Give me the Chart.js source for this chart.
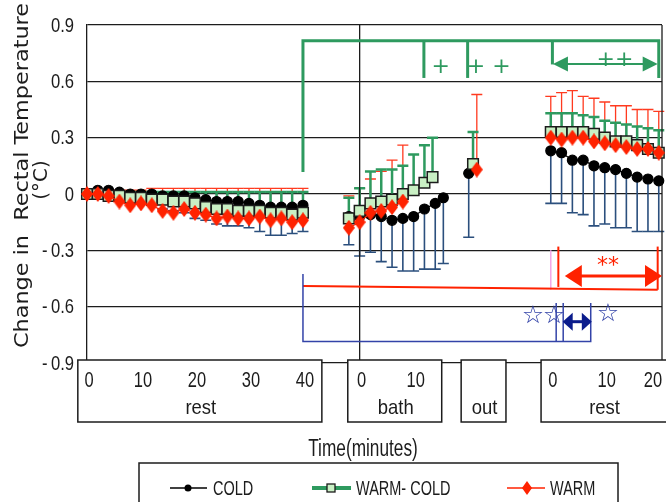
<!DOCTYPE html>
<html>
<head>
<meta charset="utf-8">
<script src="https://cdn.jsdelivr.net/npm/chart.js@4.4.1/dist/chart.umd.min.js"></script>
<style>
  html, body { margin: 0; padding: 0; background: #fff; }
  #wrap { width: 666px; height: 502px; }
</style>
</head>
<body>
<div id="wrap"><canvas id="chart" width="666" height="502"></canvas></div>
<script>
const SANS = "'Liberation Sans', Arial, sans-serif";
const WIDE = "'DejaVu Sans', sans-serif";
const INK = '#1c1c1c';
const RED = '#ff2200';
const GREEN = '#2e9a5f';
const BAR_BLUE = '#2b4f7d';
const BLUE = '#3343a8';
const NAVY = '#0b1c8c';

// where each phase starts on the shared time axis (minutes)
const REST1_AT = 0;
const BATH_AT = 50.5;
const OUT_AT = 70.7;
const REST2_AT = 85.9;
const X_MAX = 106.5;

// sampling times inside each phase
const rest1Min = [0, 2, 4, 6, 8, 10, 12, 14, 16, 18, 20, 22, 24, 26, 28, 30, 32, 34, 36, 38, 40];
const rest2Min = [0, 2, 4, 6, 8, 10, 12, 14, 16, 18, 20];
const coldBathMin = [-2, 0, 2, 4, 6, 8, 10, 12, 14, 15.5];
const wcBathMin = [-2, 0, 2, 4, 6, 8, 10, 12, 13.5];
const warmBathMin = [-2, 0, 2, 4, 6, 8];
const coldOutMin = [0];
const wcOutMin = [0.8];
const warmOutMin = [1.5];

// COLD: mean and SD (bars drawn downward)
const coldRest1 = [0, 0.02, 0.02, 0.01, 0, 0, 0, -0.01, -0.01, -0.01, -0.02, -0.03, -0.04, -0.04, -0.04, -0.05, -0.06, -0.07, -0.07, -0.07, -0.06];
const coldRest1Sd = [0, 0.02, 0.03, 0.04, 0.05, 0.05, 0.06, 0.07, 0.08, 0.09, 0.11, 0.11, 0.12, 0.13, 0.13, 0.13, 0.14, 0.15, 0.15, 0.14, 0.14];
const coldBath = [-0.12, -0.12, -0.11, -0.12, -0.14, -0.13, -0.12, -0.08, -0.05, -0.02];
const coldBathSd = [0.15, 0.21, 0.20, 0.24, 0.25, 0.28, 0.29, 0.32, 0.35, 0.35];
const coldOut = [0.11];
const coldOutSd = [0.34];
const coldRest2 = [0.23, 0.22, 0.18, 0.18, 0.15, 0.14, 0.13, 0.11, 0.09, 0.08, 0.07];
const coldRest2Sd = [0.28, 0.27, 0.28, 0.29, 0.32, 0.30, 0.31, 0.29, 0.29, 0.28, 0.27];

// WARM-COLD: mean and SD (bars drawn upward)
const wcRest1 = [0, 0, -0.01, -0.01, -0.02, -0.02, -0.03, -0.03, -0.04, -0.04, -0.05, -0.07, -0.08, -0.08, -0.09, -0.09, -0.09, -0.10, -0.10, -0.11, -0.10];
const wcRest1Sd = [0, 0.01, 0.02, 0.02, 0.03, 0.03, 0.04, 0.04, 0.05, 0.05, 0.06, 0.08, 0.09, 0.09, 0.10, 0.10, 0.10, 0.11, 0.11, 0.12, 0.11];
const wcBath = [-0.13, -0.09, -0.05, -0.04, -0.03, 0, 0.02, 0.06, 0.09];
const wcBathSd = [0.11, 0.12, 0.17, 0.17, 0.16, 0.15, 0.19, 0.20, 0.21];
const wcOut = [0.16];
const wcOutSd = [0.17];
const wcRest2 = [0.33, 0.33, 0.33, 0.33, 0.32, 0.30, 0.28, 0.28, 0.26, 0.24, 0.22];
const wcRest2Sd = [0.10, 0.10, 0.10, 0.09, 0.09, 0.09, 0.10, 0.09, 0.10, 0.11, 0.12];

// WARM: mean and SD (bars drawn upward)
const warmRest1 = [0, 0, -0.01, -0.04, -0.06, -0.05, -0.06, -0.09, -0.10, -0.08, -0.10, -0.11, -0.13, -0.12, -0.13, -0.13, -0.12, -0.14, -0.13, -0.15, -0.14];
const warmRest1Sd = [0, 0.02, 0.03, 0.06, 0.08, 0.07, 0.09, 0.12, 0.13, 0.11, 0.13, 0.14, 0.16, 0.15, 0.16, 0.16, 0.15, 0.17, 0.16, 0.18, 0.17];
const warmBath = [-0.18, -0.15, -0.10, -0.09, -0.07, -0.04];
const warmBathSd = [0.17, 0.18, 0.18, 0.21, 0.25, 0.30];
const warmOut = [0.13];
const warmOutSd = [0.40];
const warmRest2 = [0.30, 0.29, 0.30, 0.30, 0.28, 0.27, 0.26, 0.25, 0.24, 0.24, 0.22];
const warmRest2Sd = [0.22, 0.25, 0.25, 0.22, 0.23, 0.22, 0.21, 0.22, 0.21, 0.21, 0.22];

const yTicks = [-0.9, -0.6, -0.3, 0, 0.3, 0.6, 0.9];

// phase boxes under the plot (edges in minutes relative to the phase start)
const phaseBoxes = [
  { name: 'rest', at: REST1_AT, from: -1.7, to: 43.5, ticks: [0, 10, 20, 30, 40] },
  { name: 'bath', at: BATH_AT, from: -2.2, to: 15.2, ticks: [0, 10] },
  { name: 'out', at: OUT_AT, from: -1.4, to: 6.9, ticks: [] },
  { name: 'rest', at: REST2_AT, from: -1.8, to: 23, ticks: [0, 10, 20] },
];

// join the phases into one series, breaking the line between phases
function series(parts) {
  const pts = [];
  parts.forEach(([at, mins, vals, sds], k) => {
    if (k > 0) pts.push({ x: at - 1, y: null });
    mins.forEach((m, i) => pts.push({ x: at + m, y: vals[i], sd: sds[i] }));
  });
  return pts;
}

const coldData = series([
  [REST1_AT, rest1Min, coldRest1, coldRest1Sd],
  [BATH_AT, coldBathMin, coldBath, coldBathSd],
  [OUT_AT, coldOutMin, coldOut, coldOutSd],
  [REST2_AT, rest2Min, coldRest2, coldRest2Sd],
]);
const wcData = series([
  [REST1_AT, rest1Min, wcRest1, wcRest1Sd],
  [BATH_AT, wcBathMin, wcBath, wcBathSd],
  [OUT_AT, wcOutMin, wcOut, wcOutSd],
  [REST2_AT, rest2Min, wcRest2, wcRest2Sd],
]);
const warmData = series([
  [REST1_AT, rest1Min, warmRest1, warmRest1Sd],
  [BATH_AT, warmBathMin, warmBath, warmBathSd],
  [OUT_AT, warmOutMin, warmOut, warmOutSd],
  [REST2_AT, rest2Min, warmRest2, warmRest2Sd],
]);

// tall red diamond marker
function diamond(w, h, color) {
  const c = document.createElement('canvas');
  c.width = w;
  c.height = h;
  const g = c.getContext('2d');
  g.fillStyle = color;
  g.beginPath();
  g.moveTo(w / 2, 0);
  g.lineTo(w, h / 2);
  g.lineTo(w / 2, h);
  g.lineTo(0, h / 2);
  g.closePath();
  g.fill();
  return c;
}
const warmMarker = diamond(12, 16, RED);

// text squeezed horizontally, for the narrow lettering of the axis labels
function squeezed(ctx, text, x, y, sx) {
  ctx.save();
  ctx.translate(x, y);
  ctx.scale(sx, 1);
  ctx.fillText(text, 0, 0);
  ctx.restore();
}

function arrowHead(ctx, x, y, dir, len, half) {
  ctx.beginPath();
  ctx.moveTo(x, y);
  ctx.lineTo(x - dir * len, y - half);
  ctx.lineTo(x - dir * len, y + half);
  ctx.closePath();
  ctx.fill();
}

function doubleArrow(ctx, x1, x2, y, len, half) {
  ctx.beginPath();
  ctx.moveTo(x1 + len / 2, y);
  ctx.lineTo(x2 - len / 2, y);
  ctx.stroke();
  arrowHead(ctx, x1, y, -1, len, half);
  arrowHead(ctx, x2, y, 1, len, half);
}

function polyline(ctx, pts) {
  ctx.beginPath();
  pts.forEach(([px, py], i) => (i ? ctx.lineTo(px, py) : ctx.moveTo(px, py)));
  ctx.stroke();
}

// SD whiskers, drawn under the markers
const errorBars = {
  id: 'errorBars',
  beforeDatasetsDraw(chart) {
    const { ctx, scales: { x, y } } = chart;
    ctx.save();
    chart.data.datasets.forEach((ds) => {
      ctx.strokeStyle = ds.errColor;
      ctx.lineWidth = ds.errWidth;
      ds.data.forEach((p) => {
        if (p.y === null || !p.sd) return;
        const px = x.getPixelForValue(p.x);
        const y0 = y.getPixelForValue(p.y);
        const y1 = y.getPixelForValue(p.y + ds.errDir * p.sd);
        ctx.beginPath();
        ctx.moveTo(px, y0);
        ctx.lineTo(px, y1);
        ctx.moveTo(px - 5.5, y1);
        ctx.lineTo(px + 5.5, y1);
        ctx.stroke();
      });
    });
    ctx.restore();
  },
};

// frame, phase boxes, axis labels, brackets and legend
const decorations = {
  id: 'decorations',
  beforeDatasetsDraw(chart) {
    const { ctx, chartArea: a, scales: { x } } = chart;
    ctx.save();
    ctx.strokeStyle = INK;
    ctx.lineWidth = 1.3;
    const xb = x.getPixelForValue(BATH_AT);
    ctx.beginPath();
    ctx.moveTo(xb, a.top);
    ctx.lineTo(xb, a.bottom);
    ctx.moveTo(a.right, a.top);
    ctx.lineTo(a.right, a.bottom);
    ctx.stroke();
    ctx.restore();
  },
  afterDraw(chart) {
    const { ctx, chartArea: a, scales: { x, y } } = chart;
    const X = (v) => x.getPixelForValue(v);
    const Y = (v) => y.getPixelForValue(v);
    ctx.save();
    ctx.textBaseline = 'middle';

    // y tick labels
    ctx.fillStyle = INK;
    ctx.font = `20px ${SANS}`;
    ctx.textAlign = 'right';
    y.ticks.forEach((t) => {
      const label = t.value < 0 ? '-\u2009' + Math.abs(t.value) : String(t.value);
      squeezed(ctx, label, a.left - 13, Y(t.value) + 1, 0.83);
    });

    // phase boxes with their minute labels
    const boxTop = a.bottom - 3;
    const boxBottom = a.bottom + 59;
    ctx.fillStyle = '#fff';
    ctx.strokeStyle = INK;
    ctx.lineWidth = 1.5;
    phaseBoxes.forEach((b) => {
      const l = X(b.at + b.from);
      const r = X(b.at + b.to);
      ctx.fillRect(l, boxTop, r - l, boxBottom - boxTop);
      ctx.strokeRect(l, boxTop, r - l, boxBottom - boxTop);
    });
    ctx.fillStyle = INK;
    ctx.textAlign = 'center';
    const edge = chart.width - 13;
    phaseBoxes.forEach((b) => {
      ctx.font = `22px ${SANS}`;
      b.ticks.forEach((t) => squeezed(ctx, String(t), Math.min(X(b.at + t) + 2, edge), boxTop + 21, 0.75));
      ctx.font = `21px ${SANS}`;
      const mid = (X(b.at + b.from) + Math.min(X(b.at + b.to), chart.width)) / 2 + 1;
      squeezed(ctx, b.name, mid, boxTop + 48, 0.88);
    });

    // x title
    ctx.font = `23px ${SANS}`;
    squeezed(ctx, 'Time(minutes)', 363, 450, 0.75);

    // y title, two rotated lines
    ctx.font = `20px ${WIDE}`;
    ctx.textBaseline = 'alphabetic';
    const yTitle = 'Change in  Rectal Temperature';
    const stretch = 345 / ctx.measureText(yTitle).width;
    ctx.save();
    ctx.translate(28, 348);
    ctx.rotate(-Math.PI / 2);
    ctx.textAlign = 'left';
    ctx.scale(stretch, 1);
    ctx.fillText(yTitle, 0, 0);
    ctx.restore();
    ctx.save();
    ctx.translate(47, 180);
    ctx.rotate(-Math.PI / 2);
    ctx.textAlign = 'center';
    ctx.fillText('(°C)', 0, 0);
    ctx.restore();

    // WARM-COLD bracket
    ctx.strokeStyle = GREEN;
    ctx.fillStyle = GREEN;
    ctx.lineWidth = 3;
    polyline(ctx, [[X(40), Y(0.117)], [X(40), Y(0.816)], [X(105.9), Y(0.816)], [X(105.9), Y(0.618)]]);
    [[62.4, 0.618], [70.5, 0.618], [86.2, 0.69]].forEach(([v, bottom]) =>
      polyline(ctx, [[X(v), Y(0.816)], [X(v), Y(bottom)]]));
    ctx.lineWidth = 2;
    doubleArrow(ctx, X(86.3), X(105.7), Y(0.692), 15, 7.5);
    ctx.font = `22px ${WIDE}`;
    ctx.textAlign = 'center';
    ctx.textBaseline = 'middle';
    ctx.fillText('+', X(65.5), Y(0.675));
    ctx.fillText('+ +', X(74.4), Y(0.675));
    ctx.fillText('++', X(97.8), Y(0.713));

    // WARM bracket
    ctx.strokeStyle = '#f4a6e8';
    ctx.lineWidth = 1.5;
    polyline(ctx, [[X(85.9), Y(-0.30)], [X(85.9), Y(-0.51)]]);
    ctx.strokeStyle = RED;
    ctx.fillStyle = RED;
    ctx.lineWidth = 2;
    polyline(ctx, [[X(40), Y(-0.49)], [X(105.7), Y(-0.51)]]);
    polyline(ctx, [[X(87.3), Y(-0.28)], [X(87.3), Y(-0.495)]]);
    polyline(ctx, [[X(105.7), Y(-0.28)], [X(105.7), Y(-0.51)]]);
    ctx.lineWidth = 3;
    doubleArrow(ctx, X(88.5), X(106.5), Y(-0.437), 17, 11);
    ctx.font = `22px ${WIDE}`;
    ctx.fillText('**', X(96.5), Y(-0.385));

    // COLD bracket
    ctx.strokeStyle = BLUE;
    ctx.lineWidth = 1.5;
    polyline(ctx, [[X(40), Y(-0.426)], [X(40), Y(-0.786)], [X(93.3), Y(-0.786)], [X(93.3), Y(-0.58)]]);
    polyline(ctx, [[X(86.9), Y(-0.58)], [X(86.9), Y(-0.786)]]);
    polyline(ctx, [[X(88.2), Y(-0.58)], [X(88.2), Y(-0.786)]]);
    ctx.strokeStyle = NAVY;
    ctx.fillStyle = NAVY;
    ctx.lineWidth = 3;
    doubleArrow(ctx, X(88.1), X(93.5), Y(-0.68), 10, 9);
    ctx.fillStyle = BLUE;
    ctx.font = `25px ${WIDE}`;
    ctx.fillText('☆', X(82.6), Y(-0.653));
    ctx.fillText('☆', X(86.5), Y(-0.653));
    ctx.fillText('☆', X(96.5), Y(-0.644));

    // legend
    ctx.strokeStyle = INK;
    ctx.lineWidth = 1.5;
    ctx.strokeRect(139, 463, 479, 60);
    const ly = 488;
    ctx.strokeStyle = '#000';
    polyline(ctx, [[170, ly], [207, ly]]);
    ctx.fillStyle = '#000';
    ctx.beginPath();
    ctx.arc(188, ly, 3.5, 0, Math.PI * 2);
    ctx.fill();
    ctx.strokeStyle = GREEN;
    ctx.lineWidth = 4;
    polyline(ctx, [[312, ly], [351, ly]]);
    ctx.fillStyle = '#c9f0c4';
    ctx.fillRect(327, ly - 4, 8, 8);
    ctx.strokeStyle = INK;
    ctx.lineWidth = 1.3;
    ctx.strokeRect(327, ly - 4, 8, 8);
    ctx.strokeStyle = RED;
    ctx.lineWidth = 1.5;
    polyline(ctx, [[507, ly], [545, ly]]);
    ctx.fillStyle = RED;
    ctx.beginPath();
    ctx.moveTo(527, ly - 7);
    ctx.lineTo(532, ly);
    ctx.lineTo(527, ly + 7);
    ctx.lineTo(522, ly);
    ctx.closePath();
    ctx.fill();
    ctx.fillStyle = INK;
    ctx.font = `21px ${SANS}`;
    ctx.textAlign = 'left';
    squeezed(ctx, 'COLD', 213, ly + 1, 0.69);
    squeezed(ctx, 'WARM- COLD', 356, ly + 1, 0.69);
    squeezed(ctx, 'WARM', 550, ly + 1, 0.69);

    ctx.restore();
  },
};

new Chart(document.getElementById('chart'), {
  type: 'line',
  data: {
    datasets: [
      {
        label: 'WARM',
        data: warmData,
        order: 0,
        borderColor: RED,
        borderWidth: 1.2,
        pointStyle: warmMarker,
        errColor: '#ff3a1f',
        errWidth: 1.3,
        errDir: 1,
      },
      {
        label: 'WARM-COLD',
        data: wcData,
        order: 1,
        borderColor: GREEN,
        borderWidth: 3,
        pointStyle: 'rect',
        pointRadius: 7.5,
        pointBackgroundColor: '#c9f0c4',
        pointBorderColor: INK,
        pointBorderWidth: 1.5,
        errColor: GREEN,
        errWidth: 2.5,
        errDir: 1,
      },
      {
        label: 'COLD',
        data: coldData,
        order: 2,
        borderColor: '#000',
        borderWidth: 1.2,
        pointStyle: 'circle',
        pointRadius: 5,
        pointBackgroundColor: '#000',
        pointBorderColor: '#000',
        errColor: BAR_BLUE,
        errWidth: 1.6,
        errDir: -1,
      },
    ],
  },
  options: {
    responsive: false,
    animation: false,
    events: [],
    spanGaps: false,
    clip: false,
    layout: { autoPadding: false, padding: { top: 25, right: 4, bottom: 139, left: 0 } },
    plugins: { legend: { display: false }, tooltip: { enabled: false } },
    scales: {
      x: {
        type: 'linear',
        min: 0,
        max: X_MAX,
        display: false,
      },
      y: {
        min: -0.9,
        max: 0.9,
        afterFit: (scale) => { scale.width = 87; },
        afterBuildTicks: (scale) => { scale.ticks = yTicks.map((v) => ({ value: v })); },
        grid: { color: INK, lineWidth: 1.3, drawTicks: false },
        border: { color: INK, width: 1.3 },
        ticks: { display: false },
      },
    },
  },
  plugins: [errorBars, decorations],
});
</script>
</body>
</html>
